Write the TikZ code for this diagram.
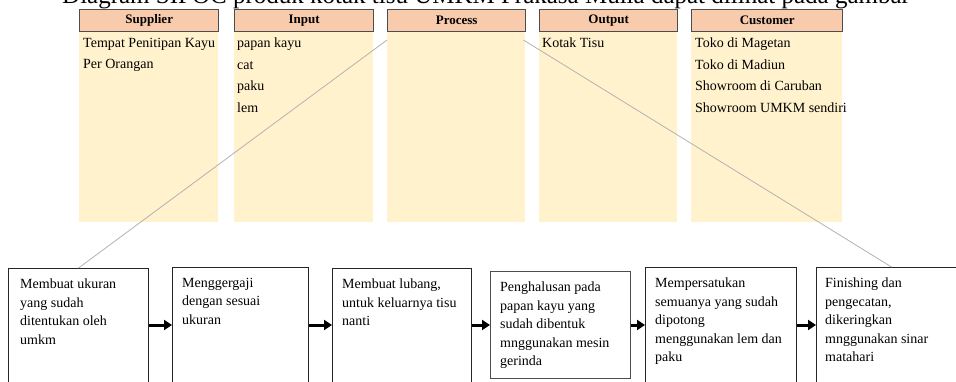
\documentclass[tikz,border=0pt]{standalone}
\usepackage{fontspec}
\setmainfont{Liberation Serif}
\usetikzlibrary{arrows.meta}
\definecolor{headfill}{HTML}{F8CBAD}
\definecolor{colfill}{HTML}{FFF2CC}
\definecolor{headline}{HTML}{4D4D4D}

\begin{document}
\begin{tikzpicture}[x=1pt,y=-1pt,
    head/.style={draw=headline, line width=1.4pt, fill=headfill, minimum height=22pt, inner sep=0pt, anchor=south west, font=\fontsize{13}{13}\selectfont\bfseries},
    column/.style={fill=colfill, minimum height=190pt, inner sep=0pt, anchor=north west},
    items/.style={anchor=north west, align=left, inner sep=0pt, font=\fontsize{14}{21.5}\selectfont},
    stepbox/.style={draw=black!85, line width=1.1pt, fill=white, minimum height=120pt, inner sep=0pt, anchor=north west},
    steptext/.style={anchor=north west, align=left, inner sep=0pt, font=\fontsize{14}{18.5}\selectfont},
    flow/.style={line width=3pt, -{Triangle[length=8pt,width=10pt]}},
    guide/.style={black!30, line width=0.8pt}]
    \useasboundingbox (0,0) rectangle (956,381);
    \clip (0,0) rectangle (956,381);

    % Caption line, cut off at the top
    \node[anchor=base west, inner sep=0pt, font=\fontsize{25}{25}\selectfont] (title) at (62,3) {Diagram SIPOC produk kotak tisu UMKM Prakasa Mulia dapat dilihat pada gambar};

    % SIPOC columns
    \node[column, minimum width=139pt] (cS) at (79,32) {};
    \node[column, minimum width=139pt] (cI) at (234,32) {};
    \node[column, minimum width=138pt] (cP) at (387,32) {};
    \node[column, minimum width=138pt] (cO) at (539,32) {};
    \node[column, minimum width=151pt] (cC) at (691,32) {};

    % Column headers
    \node[head, minimum width=139pt] (hS) at (cS.north west) {Supplier};
    \node[head, minimum width=139pt] (hI) at (cI.north west) {Input};
    \node[head, minimum width=138pt] (hP) at (cP.north west) {Process};
    \node[head, minimum width=138pt] (hO) at (cO.north west) {Output};
    \node[head, minimum width=151pt] (hC) at (cC.north west) {Customer};

    % Column entries
    \node[items] (tS) at ([shift={(4,6)}]cS.north west) {Tempat Penitipan Kayu\\Per Orangan};
    \node[items] (tI) at ([shift={(3,6)}]cI.north west) {papan kayu\\cat\\paku\\lem};
    \node[items] (tO) at ([shift={(3,6)}]cO.north west) {Kotak Tisu};
    \node[items] (tC) at ([shift={(4,6)}]cC.north west) {Toko di Magetan\\Toko di Madiun\\Showroom di Caruban\\Showroom UMKM sendiri};

    % Process steps
    \node[stepbox, minimum width=140pt] (b1) at (8,268) {};
    \node[stepbox, minimum width=136pt] (b2) at (172,267) {};
    \node[stepbox, minimum width=139pt] (b3) at (332,268) {};
    \node[stepbox, minimum width=140pt, minimum height=107pt, draw=black!70, line width=1.4pt] (b4) at (490,271) {};
    \node[stepbox, minimum width=151pt] (b5) at (645,267) {};
    \node[stepbox, minimum width=150pt] (b6) at (816,267) {};

    \node[steptext] (s1) at ([shift={(12,11)}]b1.north west) {Membuat ukuran\\yang sudah\\ditentukan oleh\\umkm};
    \node[steptext] (s2) at ([shift={(10,11)}]b2.north west) {Menggergaji\\dengan sesuai\\ukuran};
    \node[steptext] (s3) at ([shift={(10,11)}]b3.north west) {Membuat lubang,\\untuk keluarnya tisu\\nanti};
    \node[steptext] (s4) at ([shift={(10,11)}]b4.north west) {Penghalusan pada\\papan kayu yang\\sudah dibentuk\\mnggunakan mesin\\gerinda};
    \node[steptext] (s5) at ([shift={(10,11)}]b5.north west) {Mempersatukan\\semuanya yang sudah\\dipotong\\menggunakan lem dan\\paku};
    \node[steptext] (s6) at ([shift={(9,11)}]b6.north west) {Finishing dan\\pengecatan,\\dikeringkan\\mnggunakan sinar\\matahari};

    % Arrows between steps
    \coordinate (ay) at (0,325);
    \draw[flow] (b1.east |- ay) -- (b2.west |- ay);
    \draw[flow] (b2.east |- ay) -- (b3.west |- ay);
    \draw[flow] (b3.east |- ay) -- (b4.west |- ay);
    \draw[flow] (b4.east |- ay) -- (b5.west |- ay);
    \draw[flow] (b5.east |- ay) -- (b6.west |- ay);

    % Zoom lines from the Process column
    \coordinate (gl) at ([shift={(0,8)}]cP.north west);
    \coordinate (gr) at ([shift={(-2,8)}]cP.north east);
    \draw[guide] (gl) -- (b1.north);
    \draw[guide] (gr) -- (b6.north);
\end{tikzpicture}
\end{document}
